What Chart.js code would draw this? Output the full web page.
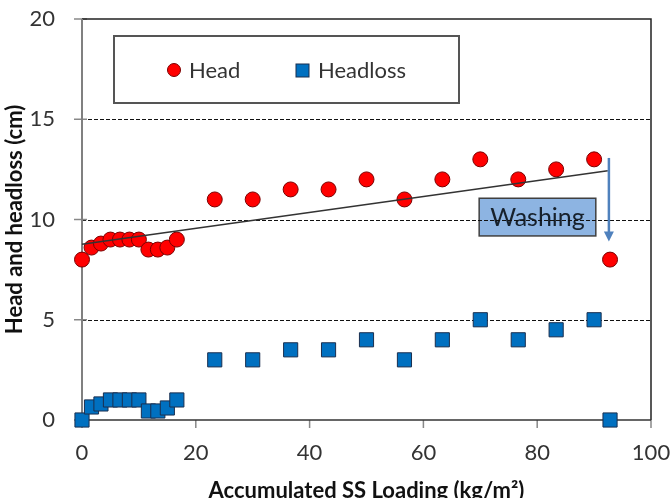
<!DOCTYPE html>
<html>
<head>
<meta charset="utf-8">
<script src="https://cdn.jsdelivr.net/npm/chart.js@4.4.0/dist/chart.umd.min.js"></script>
<style>
  html, body { margin: 0; padding: 0; background: #fff; overflow: hidden; }
  #wrap { width: 670px; height: 498px; overflow: hidden; }
</style>
</head>
<body>
<div id="wrap"><canvas id="c" width="670" height="505"></canvas></div>
<script>
// ---- data ----
const loading = [0, 1.67, 3.33, 5, 6.67, 8.33, 10, 11.67, 13.33, 15, 16.67, 23.33, 30, 36.67, 43.33, 50, 56.67, 63.33, 70, 76.67, 83.33, 90, 92.8];
const head = [8, 8.6, 8.8, 9, 9, 9, 9, 8.5, 8.5, 8.6, 9, 11, 11, 11.5, 11.5, 12, 11, 12, 13, 12, 12.5, 13, 8];
const headloss = [0, 0.65, 0.8, 1, 1, 1, 1, 0.45, 0.45, 0.6, 1, 3, 3, 3.5, 3.5, 4, 3, 4, 5, 4, 4.5, 5, 0];
const trendX = [0, 92.4];
const trendY = [8.76, 12.43];
const xTicks = [0, 20, 40, 60, 80, 100];
const yTicks = [0, 5, 10, 15, 20];
const seriesNames = ['Head', 'Headloss'];
const washLabel = 'Washing';
const washBoxX = [69.8, 90.3];
const washBoxY = [9.18, 11.06];
const arrowX = 92.6;
const arrowY = [13.07, 8.9];

const FONT = 'Lato';

const toPts = (xs, ys) => xs.map((x, i) => ({ x: x, y: ys[i] }));

const framePlugin = {
  id: 'frame',
  beforeDatasetsDraw(chart) {
    const ctx = chart.ctx;
    const a = chart.chartArea;
    const xs = chart.scales.x, ys = chart.scales.y;
    ctx.save();
    // washing box
    const bx1 = xs.getPixelForValue(washBoxX[0]), bx2 = xs.getPixelForValue(washBoxX[1]);
    const by1 = ys.getPixelForValue(washBoxY[1]), by2 = ys.getPixelForValue(washBoxY[0]);
    ctx.fillStyle = '#8db4e2';
    ctx.fillRect(bx1, by1, bx2 - bx1, by2 - by1);
    ctx.strokeStyle = '#404040';
    ctx.lineWidth = 1.5;
    ctx.strokeRect(bx1, by1, bx2 - bx1, by2 - by1);
    ctx.fillStyle = '#17212c';
    ctx.font = '25px ' + FONT;
    ctx.textAlign = 'center';
    ctx.textBaseline = 'middle';
    ctx.fillText(washLabel, (bx1 + bx2) / 2, (by1 + by2) / 2 + 1);
    // dashed grid lines
    ctx.strokeStyle = '#111';
    ctx.lineWidth = 1.2;
    ctx.setLineDash([4, 2]);
    yTicks.forEach(v => {
      if (v === yTicks[0] || v === yTicks[yTicks.length - 1]) return;
      const y = Math.round(ys.getPixelForValue(v)) + 0.5;
      ctx.beginPath(); ctx.moveTo(a.left, y); ctx.lineTo(a.right, y); ctx.stroke();
    });
    ctx.setLineDash([]);
    // tick marks
    ctx.strokeStyle = '#888';
    ctx.lineWidth = 1.5;
    yTicks.forEach(v => {
      const y = ys.getPixelForValue(v);
      ctx.beginPath(); ctx.moveTo(a.left - 8, y); ctx.lineTo(a.left + 5, y); ctx.stroke();
    });
    xTicks.forEach(v => {
      const x = xs.getPixelForValue(v);
      ctx.beginPath(); ctx.moveTo(x, a.bottom); ctx.lineTo(x, a.bottom + 8); ctx.stroke();
    });
    // frame
    ctx.strokeStyle = '#222';
    ctx.lineWidth = 1.5;
    ctx.beginPath(); ctx.moveTo(a.left, a.top); ctx.lineTo(a.right, a.top); ctx.lineTo(a.right, a.bottom); ctx.stroke();
    ctx.strokeStyle = '#333';
    ctx.beginPath(); ctx.moveTo(a.left, a.bottom); ctx.lineTo(a.right, a.bottom); ctx.stroke();
    ctx.strokeStyle = '#808080';
    ctx.lineWidth = 2;
    ctx.beginPath(); ctx.moveTo(a.left, a.top); ctx.lineTo(a.left, a.bottom); ctx.stroke();
    ctx.restore();
  },
  afterDraw(chart) {
    const ctx = chart.ctx;
    const xs = chart.scales.x, ys = chart.scales.y;
    ctx.save();
    // arrow
    const ax = xs.getPixelForValue(arrowX);
    const ay1 = ys.getPixelForValue(arrowY[0]), ay2 = ys.getPixelForValue(arrowY[1]);
    ctx.strokeStyle = '#4f81bd';
    ctx.fillStyle = '#4f81bd';
    ctx.lineWidth = 2.5;
    ctx.beginPath(); ctx.moveTo(ax, ay1); ctx.lineTo(ax, ay2 - 8); ctx.stroke();
    ctx.beginPath(); ctx.moveTo(ax - 5, ay2 - 10); ctx.lineTo(ax + 5, ay2 - 10); ctx.lineTo(ax, ay2); ctx.closePath(); ctx.fill();
    // legend box
    ctx.fillStyle = '#fff';
    ctx.fillRect(114, 36, 345, 67);
    ctx.strokeStyle = '#555';
    ctx.lineWidth = 2;
    ctx.strokeRect(114, 36, 345, 67);
    const ds = chart.data.datasets;
    ctx.font = '22px ' + FONT;
    ctx.textBaseline = 'middle';
    ctx.textAlign = 'left';
    // Head marker
    ctx.beginPath(); ctx.arc(174, 70, 6.5, 0, Math.PI * 2);
    ctx.fillStyle = ds[1].backgroundColor; ctx.fill();
    ctx.lineWidth = 1; ctx.strokeStyle = ds[1].borderColor; ctx.stroke();
    ctx.fillStyle = '#333';
    ctx.fillText(ds[1].label, 189, 71);
    // Headloss marker
    ctx.fillStyle = ds[2].backgroundColor;
    ctx.fillRect(296, 64, 13, 13);
    ctx.strokeStyle = ds[2].borderColor;
    ctx.strokeRect(296, 64, 13, 13);
    ctx.fillStyle = '#333';
    ctx.fillText(ds[2].label, 318, 71);
    ctx.restore();
  }
};

new Chart(document.getElementById('c'), {
  type: 'scatter',
  data: {
    datasets: [
      {
        label: 'Trend', type: 'line', data: toPts(trendX, trendY), order: 0, clip: false,
        borderColor: '#333', borderWidth: 1.5, pointRadius: 0, fill: false, showLine: true
      },
      {
        label: seriesNames[0], data: toPts(loading, head), order: 1, clip: false,
        pointStyle: 'circle', pointRadius: 7.5, backgroundColor: '#ff0000', borderColor: '#7a0000', borderWidth: 1
      },
      {
        label: seriesNames[1], data: toPts(loading, headloss), order: 2, clip: false,
        pointStyle: 'rect', pointRadius: 10, backgroundColor: '#0070c0', borderColor: '#1a2f4f', borderWidth: 1
      }
    ]
  },
  options: {
    responsive: false,
    animation: false,
    devicePixelRatio: 1,
    layout: { autoPadding: false, padding: { top: 19, right: 19, left: 0, bottom: 0 } },
    plugins: { legend: { display: false }, tooltip: { enabled: false } },
    scales: {
      x: {
        type: 'linear', min: 0, max: 100,
        afterBuildTicks: s => { s.ticks = xTicks.map(v => ({ value: v })); },
        afterFit: s => { s.height = 85; s.paddingLeft = 0; s.paddingRight = 0; },
        grid: { display: false, drawTicks: false },
        border: { display: false },
        ticks: { padding: 20, color: '#333', font: { family: FONT, size: 22 } },
        title: { display: true, text: 'Accumulated SS Loading (kg/m²)', color: '#111',
                 font: { family: FONT, size: 22, weight: 'bold' }, padding: { top: 11, bottom: 1 } }
      },
      y: {
        type: 'linear', min: 0, max: 20,
        afterBuildTicks: s => { s.ticks = yTicks.map(v => ({ value: v })); },
        afterFit: s => { s.width = 82; s.paddingTop = 0; s.paddingBottom = 0; },
        grid: { display: false, drawTicks: false },
        border: { display: false },
        ticks: { padding: 27, color: '#333', font: { family: FONT, size: 22 } },
        title: { display: true, text: 'Head and headloss (cm)', color: '#111',
                 font: { family: FONT, size: 22, weight: 'bold' }, padding: { top: 2, bottom: 1 } }
      }
    }
  },
  plugins: [framePlugin]
});
</script>
</body>
</html>
